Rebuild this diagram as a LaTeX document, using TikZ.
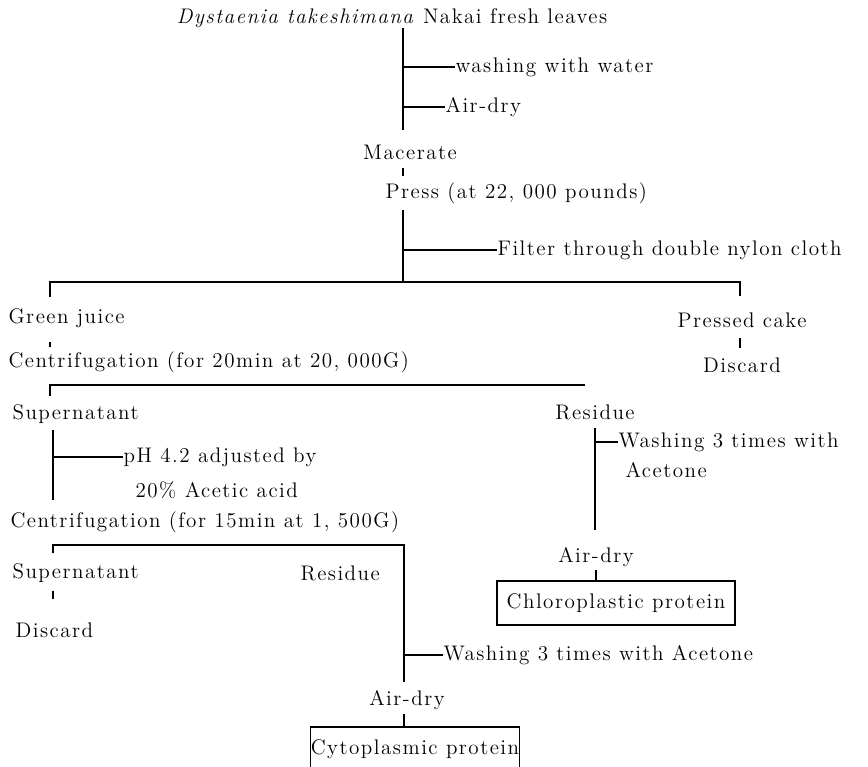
\documentclass[tikz,border=0pt]{standalone}
\usepackage{fontspec}
\setmainfont{lmroman12}[Extension=.otf, UprightFont=*-regular, ItalicFont=*-italic, BoldFont=*-bold, LetterSpace=7]
\usetikzlibrary{positioning}

\begin{document}
\begin{tikzpicture}[x=0.025cm, y=-0.025cm, line width=0.8pt,
	every node/.style={inner sep=0pt, font=\fontsize{15}{17}\selectfont},
	txt/.style={anchor=west},
	box/.style={draw, line width=0.8pt, minimum height=1.1cm}]
	\useasboundingbox (0,0) rectangle (868,767);

	% top of the sheet
	\node (title) at (392,18) {\textit{Dystaenia takeshimana} Nakai fresh leaves};
	\node[txt] (wash) at (455,67) {washing with water};
	\node[txt] (airdry) at (445,107) {Air-dry};
	\node (macerate) at (410,152) {Macerate};
	\node[txt] (press) at (385,193) {Press (at 22, 000 pounds)};
	\node[txt] (filter) at (497,250) {Filter through double nylon cloth};

	% first split
	\node[txt] (juice) at (8,318) {Green juice};
	\node (cake) at (742,320) {Pressed cake};
	\node (discard) at (742,365) {Discard};
	\node[txt] (centA) at (8,362) {Centrifugation (for 20min at 20, 000G)};
	\node[txt] (superA) at (12,414) {Supernatant};
	\node (residueA) at (595,412) {Residue};
	\node[txt] (washA) at (618,442) {Washing 3 times with};
	\node[txt] (acetoneA) at (625,470) {Acetone};
	\node (airdryA) at (596,557) {Air-dry};
	\node[box, minimum width=5.95cm] (chloro) at (616,603) {Chloroplastic protein};

	% second split
	\node[txt] (ph) at (123,457) {pH 4.2 adjusted by};
	\node[txt] (acid) at (135,490) {20\% Acetic acid};
	\node[txt] (centB) at (10,522) {Centrifugation (for 15min at 1, 500G)};
	\node[txt] (superB) at (12,573) {Supernatant};
	\node[txt] (discardB) at (15,630) {Discard};
	\node[txt] (residueB) at (300,573) {Residue};
	\node[txt] (washB) at (443,655) {Washing 3 times with Acetone};
	\node (airdryB) at (407,700) {Air-dry};
	\node[box, minimum width=5.2cm] (cyto) at (415,749) {Cytoplasmic protein};

	% stems
	\coordinate (s1) at (403,130);
	\coordinate (s2) at (403,210);
	\coordinate (s3) at (403,282);
	\coordinate (h1l) at (50,282);
	\coordinate (h1r) at (740,282);
	\coordinate (h2l) at (50,385);
	\coordinate (h2r) at (585,385);
	\coordinate (s4) at (53,430);
	\coordinate (s5) at (53,500);
	\coordinate (s6) at (595,530);
	\coordinate (h3l) at (53,545);
	\coordinate (h3r) at (404,545);
	\coordinate (s7) at (404,682);

	\draw
		(title.south -| s1) -- (s1)
		(wash.west -| s1) -- (wash.west)
		(airdry.west -| s1) -- (airdry.west)
		(macerate.south -| s1) ++(0,8) -- ++(0,8)
		(s2) -- (s3)
		(filter.west -| s2) -- (filter.west)
		(h1l) ++(0,15) -- (h1l) -- (h1r) -- ++(0,14)
		(cake.south -| h1r) ++(0,10) -- ++(0,10)
		(juice.south -| h1l) ++(0,14) -- ++(0,5)
		(h2l) ++(0,11) -- (h2l) -- (h2r)
		(s4) -- (s5)
		(ph.west -| s4) -- (ph.west)
		(residueA.south) ++(0,8) -- (s6)
		(washA.west -| s6) -- (washA.west)
		(airdryA.south) ++(0,3) -- (chloro.north -| airdryA)
		(h3l) ++(0,8) -- (h3l) -- (h3r) -- (s7)
		(washB.west -| s7) -- (washB.west)
		(superB.south -| h3l) ++(0,8) -- ++(0,8)
		(airdryB.south -| h3r) ++(0,4) -- (cyto.north -| h3r)
		;
\end{tikzpicture}
\end{document}
